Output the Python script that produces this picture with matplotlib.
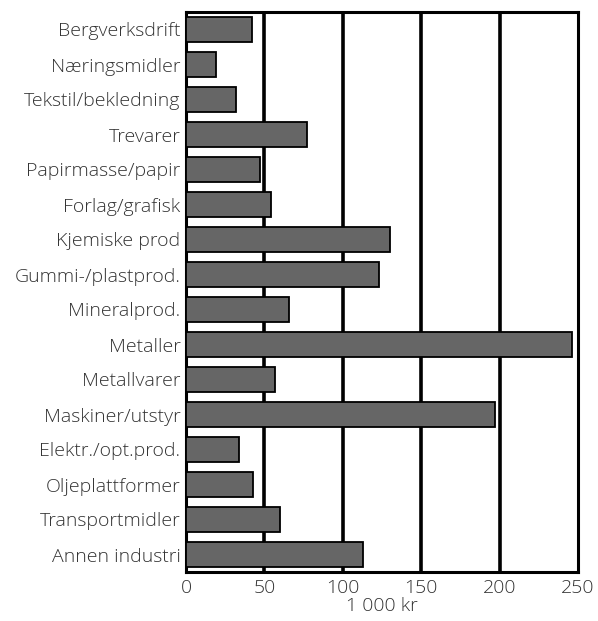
import matplotlib.pyplot as plt
import numpy as np

kategorier = ["Bergverksdrift", "Næringsmidler", "Tekstil/bekledning", "Trevarer",
              "Papirmasse/papir", "Forlag/grafisk", "Kjemiske prod", "Gummi-/plastprod.",
              "Mineralprod.", "Metaller", "Metallvarer", "Maskiner/utstyr",
              "Elektr./opt.prod.", "Oljeplattformer", "Transportmidler", "Annen industri"]
verdier = [42, 19, 32, 77, 47, 54, 130, 123, 66, 246, 57, 197, 34, 43, 60, 113]
xticks = [0, 50, 100, 150, 200, 250]

plt.rcParams['font.family'] = ['Open Sans', 'DejaVu Sans']
fs = 14
tc = "#333333"

fig = plt.figure(figsize=(5.98, 6.21), dpi=100)
ax = fig.add_axes([186 / 598, 1 - 572 / 621, (578 - 186) / 598, (572 - 12) / 621])

y = np.arange(len(kategorier))
ax.barh(y, verdier, height=0.72, color="#666666", edgecolor="black", linewidth=1.3, zorder=3)

ax.set_xlim(0, 250)
ax.set_ylim(len(kategorier) - 0.5, -0.5)
ax.set_yticks(y)
ax.set_yticklabels(kategorier, fontsize=fs, color=tc, fontweight="light")
ax.set_xticks(xticks)
ax.set_xticklabels([str(t) for t in xticks], fontsize=fs, color=tc, fontweight="light")
ax.tick_params(axis="y", length=0, pad=4)
ax.tick_params(axis="x", length=0, pad=5)
ax.set_xlabel("1 000 kr", fontsize=fs, color=tc, fontweight="light", labelpad=0)

for xv in xticks[1:-1]:
    ax.axvline(xv, color="black", linewidth=2.6, zorder=1)
for s in ax.spines.values():
    s.set_linewidth(2.2)
    s.set_color("black")

fig.savefig("out.png", dpi=100)
